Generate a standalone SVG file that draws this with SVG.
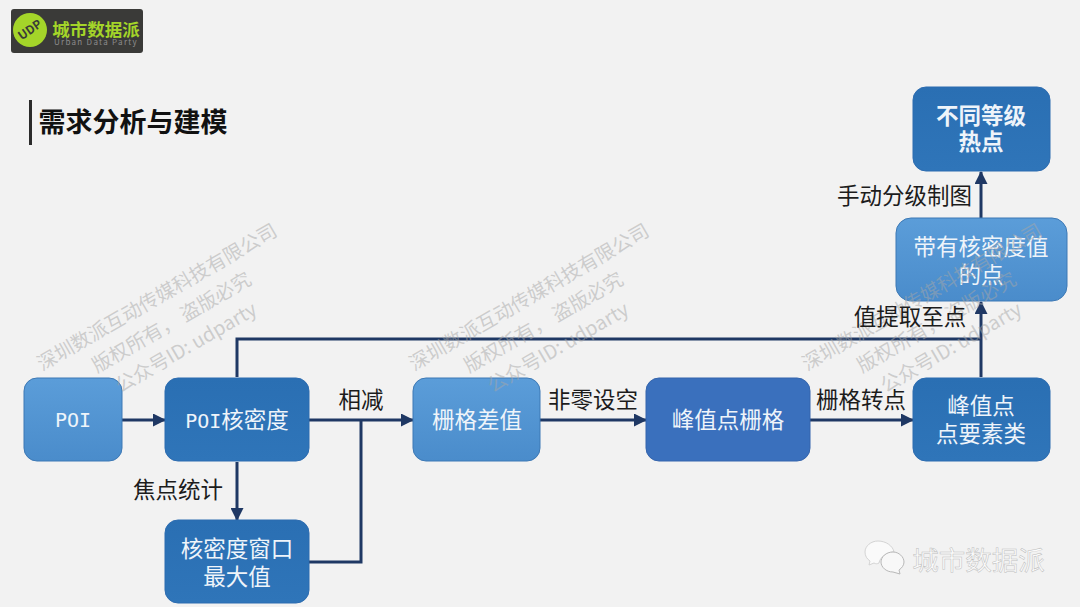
<svg xmlns="http://www.w3.org/2000/svg" width="1080" height="607" viewBox="0 0 1080 607">
<style>
text{font-family:"Noto Sans CJK SC","Noto Sans",sans-serif;text-anchor:middle}
.n{font-size:22.500px;fill:#eef4fa}
.m{font-family:"DejaVu Sans Mono",monospace;font-size:20px}
.l{font-size:22.500px;fill:#1c1c1c}
.w{font-size:19.500px;fill:#a6a6a6;fill-opacity:.5}
.c{fill:none;stroke:#1f3864;stroke-width:3}
.a{stroke:#2d6cb0;stroke-width:1}
.b{stroke:#3d79b5;stroke-width:1}
</style>
<defs>
<linearGradient id="lt" x1="0" y1="0" x2="0" y2="1"><stop offset="0" stop-color="#5b9dd9"/><stop offset="1" stop-color="#4a8ccb"/></linearGradient>
<linearGradient id="dk" x1="0" y1="0" x2="0" y2="1"><stop offset="0" stop-color="#2a6fb3"/><stop offset="1" stop-color="#2f75b9"/></linearGradient>
<marker id="ah" markerUnits="userSpaceOnUse" markerWidth="13" markerHeight="13" refX="12" refY="6.500" orient="auto"><path d="M0 0L13 6.500L0 13Z" fill="#1f3864"/></marker>
</defs>
<rect width="1080" height="607" fill="#f2f2f2"/>
<g id="logo">
<rect x="11" y="9" width="132" height="44" rx="3" fill="#3a3a38"/>
<circle cx="30" cy="30" r="17" fill="#a4d529"/>
<text transform="rotate(-35 30 30)" x="30" y="34" style="font-size:12px;font-weight:700;fill:#3a3a38">UDP</text>
<text x="96" y="36" style="font-size:17.500px;font-weight:700;fill:#a4d529">城市数据派</text>
<text x="96" y="45" style="font-size:8px;fill:#8c8c8c;letter-spacing:1.300px">Urban Data Party</text>
</g>
<g id="title">
<rect x="29" y="100" width="3" height="45" fill="#2b2b2b"/>
<text x="133" y="132" style="font-size:27px;font-weight:700;fill:#111">需求分析与建模</text>
</g>
<g id="connectors">
<path class="c" marker-end="url(#ah)" d="M122 420H165"/>
<path class="c" marker-end="url(#ah)" d="M309 420H413"/>
<path class="c" marker-end="url(#ah)" d="M540 420H646"/>
<path class="c" marker-end="url(#ah)" d="M810 420H913"/>
<path class="c" marker-end="url(#ah)" d="M237 462V520"/>
<path class="c" d="M309 562H361V420"/>
<path class="c" marker-end="url(#ah)" d="M981 377V302"/>
<path class="c" d="M237 377V339H981"/>
<path class="c" marker-end="url(#ah)" d="M981 218V172"/>
</g>
<g id="node-poi"><rect class="b" x="24" y="378" width="98" height="83" rx="13" fill="url(#lt)"/><text class="n m" x="73" y="427">POI</text></g>
<g id="node-kde"><rect class="a" x="165" y="378" width="144" height="83" rx="13" fill="url(#dk)"/><text class="n" x="237" y="428"><tspan class="m">POI</tspan>核密度</text></g>
<g id="node-max"><rect class="a" x="165" y="520" width="144" height="83" rx="13" fill="url(#dk)"/><text class="n" x="237" y="557">核密度窗口</text><text class="n" x="237" y="585">最大值</text></g>
<g id="node-diff"><rect class="b" x="413" y="378" width="127" height="83" rx="13" fill="url(#lt)"/><text class="n" x="477" y="428">栅格差值</text></g>
<g id="node-peak"><rect x="646" y="378" width="164" height="83" rx="13" fill="#3a70bd" stroke="#3565ad"/><text class="n" x="728" y="428">峰值点栅格</text></g>
<g id="node-points"><rect class="a" x="913" y="378" width="137" height="83" rx="13" fill="url(#dk)"/><text class="n" x="981" y="414">峰值点</text><text class="n" x="981" y="442">点要素类</text></g>
<g id="node-valued"><rect class="b" x="896" y="218" width="171" height="83" rx="15" fill="url(#lt)"/><text class="n" x="981" y="255">带有核密度值</text><text class="n" x="981" y="283">的点</text></g>
<g id="node-levels"><rect class="a" x="913" y="87" width="137" height="84" rx="13" fill="url(#dk)"/><text class="n" x="981" y="124" style="font-weight:700">不同等级</text><text class="n" x="981" y="150" style="font-weight:700">热点</text></g>
<g id="watermarks">
<g transform="rotate(-30 157 297)"><text class="w" x="157" y="304">深圳数派互动传媒科技有限公司</text><text class="w" x="157" y="333">版权所有， 盗版必究</text><text class="w" x="157" y="362">公众号ID: udparty</text></g>
<g transform="rotate(-30 529 297)"><text class="w" x="529" y="304">深圳数派互动传媒科技有限公司</text><text class="w" x="529" y="333">版权所有， 盗版必究</text><text class="w" x="529" y="362">公众号ID: udparty</text></g>
<g transform="rotate(-30 922 297)"><text class="w" x="922" y="304">深圳数派互动传媒科技有限公司</text><text class="w" x="922" y="333">版权所有， 盗版必究</text><text class="w" x="922" y="362">公众号ID: udparty</text></g>
</g>
<g id="labels">
<text class="l" x="361" y="408">相减</text>
<text class="l" x="593" y="408">非零设空</text>
<text class="l" x="861" y="408">栅格转点</text>
<text class="l" x="178" y="498">焦点统计</text>
<text class="l" x="910" y="325">值提取至点</text>
<text class="l" x="904.500" y="204">手动分级制图</text>
</g>
<g id="brand">
<path d="M878 541c-7 0-13 5-13 11 0 4 2 7 5 9l-1 4 5-2c2 1 3 1 5 0 1-6 8-11 15-11-1-6-8-11-16-11z" fill="#fafafa" stroke="#d4d4d4"/>
<path d="M893 552c-7 0-12 5-12 10s5 10 12 10l7 2-1-4c3-2 5-5 5-8 0-5-5-10-11-10z" fill="#f8f8f8" stroke="#b8b8b8"/>
<text x="978.500" y="570" style="font-size:26.500px;fill:#fbfbfb;stroke:#bdbdbd;stroke-width:.5">城市数据派</text>
</g>
</svg>
